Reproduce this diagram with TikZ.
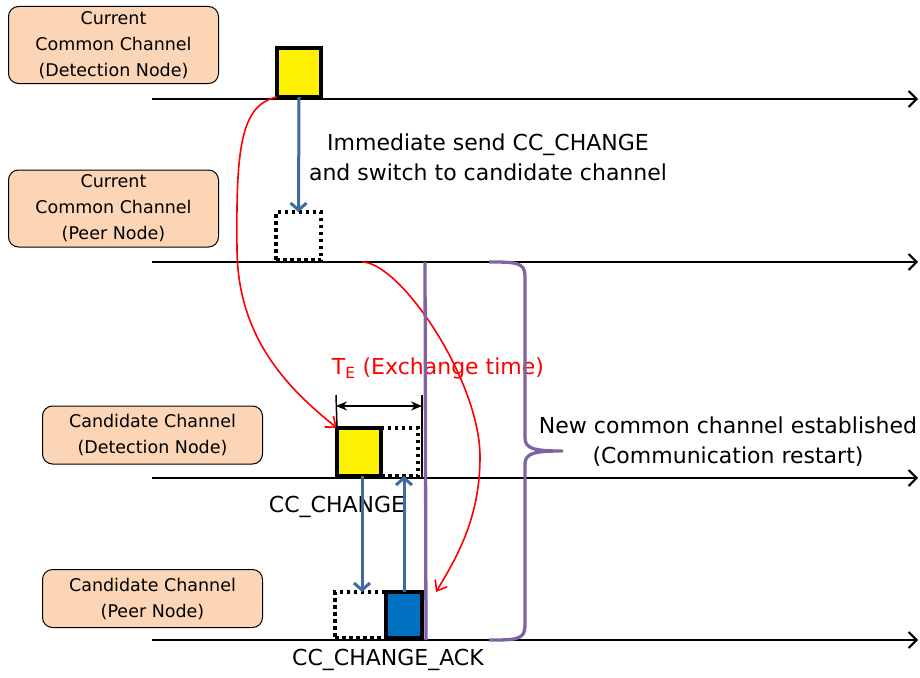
\documentclass[tikz,border=0pt]{standalone}
\usepackage{fontspec}
\setmainfont{DejaVu Sans}
\usetikzlibrary{arrows.meta,positioning}
\definecolor{peach}{HTML}{FBD5B5}
\definecolor{msgblue}{HTML}{3F6C9F}
\definecolor{ackblue}{HTML}{0070C0}
\definecolor{bracepurple}{HTML}{8064A2}

\begin{document}
\begin{tikzpicture}[x=1pt,y=-1pt,
	chan/.style={draw,line width=1pt,rounded corners=10pt,fill=peach,align=center,
		font=\fontsize{17.5}{26}\selectfont},
	axis/.style={line width=2pt,-{Straight Barb[length=8pt,width=16pt]}},
	frame/.style={draw,line width=4.5pt,inner sep=0pt,outer sep=0pt},
	ghost/.style={draw,line width=4pt,dash pattern=on 3.5pt off 3.5pt,inner sep=0pt,outer sep=0pt},
	msg/.style={msgblue,line width=3pt,-{Straight Barb[length=7pt,width=16pt]}},
	hop/.style={red,line width=1.6pt,-{Straight Barb[length=9pt,width=14pt]}},
	big/.style={font=\fontsize{22}{30}\selectfont,align=center}]
	\useasboundingbox (0,0) rectangle (920,677);
	% timelines
	\foreach \n/\y in {a/99,b/262,c/478,d/640} {
		\coordinate (\n0) at (152,\y);
		\coordinate (\n1) at (918,\y);
		\draw[axis] (\n0) -- (\n1);
	}
	% channel labels
	\node[chan,minimum width=210pt,minimum height=77pt] (curdet) at (113.5,45) {Current\\Common Channel\\(Detection Node)};
	\node[chan,minimum width=210pt,minimum height=77pt] (curpeer) at (113.5,208.5) {Current\\Common Channel\\(Peer Node)};
	\node[chan,minimum width=220pt,minimum height=58pt] (canddet) at (152.5,435) {Candidate Channel\\(Detection Node)};
	\node[chan,minimum width=220pt,minimum height=58pt] (candpeer) at (152.5,598.5) {Candidate Channel\\(Peer Node)};
	% frames
	\node[frame,fill=yellow,minimum width=44pt,minimum height=49pt,anchor=south west] (cc1) at (277,97) {};
	\node[ghost,minimum width=45pt,minimum height=48pt,anchor=south west] (gh1) at (276,260) {};
	\node[frame,fill=yellow,minimum width=44pt,minimum height=48pt,anchor=south west] (cc3) at (337,476) {};
	\node[ghost,minimum width=37pt,minimum height=48pt,right=0pt of cc3] (gh3) {};
	\node[ghost,minimum width=51pt,minimum height=46pt,anchor=south west] (gh4) at (335,638) {};
	\node[frame,fill=ackblue,minimum width=36pt,minimum height=46pt,right=0pt of gh4] (ack) {};
	% texts
	\node[big] (imm) at (488,157) {Immediate send CC\_CHANGE\\and switch to candidate channel};
	\node[big,text=red] (te) at (438,368) {T\textsubscript{E} (Exchange time)};
	\node[big] (ccl) at (337,507) {CC\_CHANGE};
	\node[big] (ackl) at (388,660) {CC\_CHANGE\_ACK};
	\node[big] (newcc) at (728,442) {New common channel established\\(Communication restart)};
	% messages
	\draw[msg] (cc1.south) -- (gh1.north);
	\draw[msg] (cc3.south -| 362,0) -- (gh4.north -| 362,0);
	\draw[msg] (ack.north) -- (ack.north |- gh3.south);
	% switching hops
	\coordinate (rel) at (362,262);
	\coordinate (hit) at (436,592);
	\draw[hop] (cc1.south west) .. controls (240,105) and (236,150) .. (237,250)
		.. controls (238,340) and (290,390) .. (cc3.north west);
	\draw[hop] (rel) .. controls (400,262) and (480,380) .. (480,457)
		.. controls (480,520) and (455,560) .. (hit);
	% exchange time
	\coordinate (dl) at (336,395);
	\coordinate (dr) at (422,395);
	\draw[line width=1.5pt] (dl) -- (cc3.north west);
	\draw[line width=1.5pt] (dr) -- (422,478);
	\draw[line width=1.5pt,{Stealth[length=11pt,width=9pt]}-{Stealth[length=11pt,width=9pt]}] ([yshift=-11pt]dl) -- ([yshift=-11pt]dr);
	% restart
	\coordinate (rs) at (425,262);
	\coordinate (re) at (426,640);
	\draw[bracepurple,line width=3.3pt] (rs) -- (re);
	\coordinate (brtop) at (489,262);
	\coordinate (brtip) at (562,451);
	\coordinate (brbot) at (489,640);
	\draw[bracepurple,line width=3.3pt,line join=round] (brtop) .. controls (515,262) and (525,262) .. (525,276)
		-- (525,438) .. controls (525,449) and (535,451) .. (brtip)
		.. controls (535,451) and (525,453) .. (525,464)
		-- (525,626) .. controls (525,640) and (515,640) .. (brbot);
\end{tikzpicture}
\end{document}
